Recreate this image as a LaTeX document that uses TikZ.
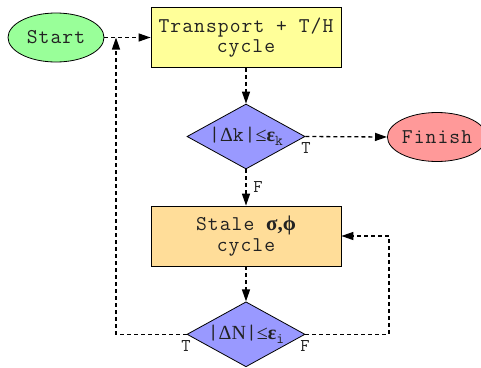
\documentclass[tikz,border=0pt]{standalone}
\usepackage{fontspec}
\setmainfont{Liberation Serif}
\setmonofont{Latin Modern Mono}[LetterSpace=5]
\newfontfamily\serifgr{Liberation Serif}
\usetikzlibrary{shapes.geometric,arrows.meta}
\definecolor{cgreen}{HTML}{99FF99}
\definecolor{cyellow}{HTML}{FFFF99}
\definecolor{cblue}{HTML}{9999FF}
\definecolor{csalmon}{HTML}{FF9999}
\definecolor{corange}{HTML}{FFDD99}
\definecolor{ctext}{HTML}{222222}
\newcommand{\subsc}[1]{\raisebox{-4pt}{\ttfamily\fontsize{15}{15}\selectfont #1}}
\begin{document}
\begin{tikzpicture}[x=1pt,y=-1pt,
  font=\ttfamily\fontsize{21}{20.5}\selectfont, text=ctext,
  term/.style={ellipse, draw, line width=0.8pt, minimum width=96pt, minimum height=49pt, inner sep=0pt},
  proc/.style={rectangle, draw, line width=0.8pt, minimum width=190pt, minimum height=60pt, inner sep=0pt, align=center},
  dec/.style={diamond, draw, line width=0.8pt, minimum width=118pt, minimum height=65pt, inner sep=0pt, aspect=1.8},
  flow/.style={draw, line width=1.3pt, dash pattern=on 4pt off 3pt, -{Triangle[length=12pt,width=8pt]}},
  lbl/.style={font=\ttfamily\fontsize{18}{18}\selectfont, inner sep=0pt}]
\useasboundingbox (0,0) rectangle (481,367);
\node[term, fill=cgreen] (start) at (56,37.5) {Start};
\node[proc, fill=cyellow] (tr) at (246,37.5) {Transport + T/H\\cycle};
\node[dec, fill=cblue] (d1) at (246,136.5) {|{\serifgr\fontsize{20}{20}\selectfont Δ}k|{\serifgr\fontsize{20}{20}\selectfont ≤\bfseries ε}\subsc{k}};
\node[term, fill=csalmon] (fin) at (437,137) {Finish};
\node[proc, fill=corange] (st) at (246,236) {Stale {\serifgr\bfseries\fontsize{21}{19}\selectfont σ,ϕ}\\cycle};
\node[dec, fill=cblue] (d2) at (246,334.3) {|{\serifgr\fontsize{20}{20}\selectfont ΔN}|{\serifgr\fontsize{20}{20}\selectfont ≤\bfseries ε}\subsc{i}};
\coordinate (lc) at (116,37.5);
\coordinate (rc) at (389,236);
\draw[flow] (start.east) -- (tr.west);
\draw[flow] (tr.south) -- (d1.north);
\draw[flow] (d1.east) -- (fin.west);
\draw[flow] (d1.south) -- (st.north);
\draw[flow] (st.south) -- (d2.north);
\draw[flow] (d2.west) -| (lc);
\draw[flow] (d2.east) -| (rc) -- (st.east);
\node[lbl] (t1) at (306,148) {T};
\node[lbl] (f1) at (258,187) {F};
\node[lbl] (t2) at (186,346) {T};
\node[lbl] (f2) at (305,346) {F};
\end{tikzpicture}
\end{document}
